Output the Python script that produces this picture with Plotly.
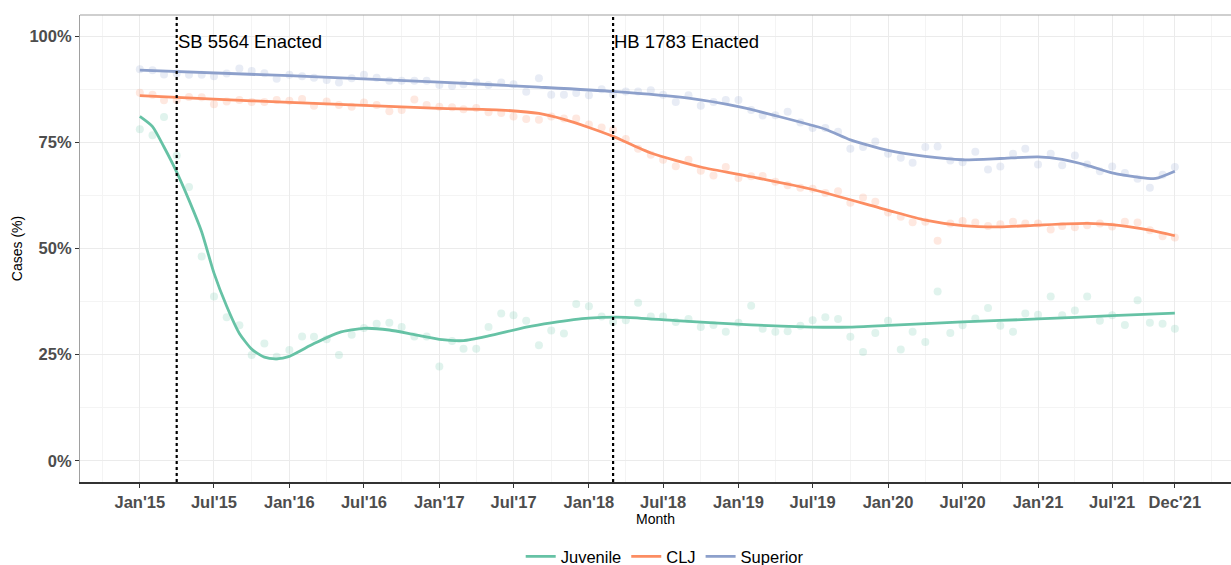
import pandas as pd
import plotly.graph_objects as go

# ---------------- data ----------------
months = pd.date_range("2015-01-01", "2021-12-01", freq="MS")

juvenile = [
    78.1, 76.7, 81.0, 71.9, 64.5, 48.1, 38.7, 33.8, 31.9, 24.9, 27.6, 24.5,
    26.1, 29.3, 29.2, 28.6, 24.9, 29.7, 31.3, 32.3, 32.5, 31.5, 29.3, 29.3,
    22.2, 28.2, 26.4, 26.4, 31.5, 34.7, 34.3, 33.0, 27.2, 30.7, 30.0, 36.9,
    36.4, 34.0, 32.7, 33.1, 37.2, 34.0, 34.0, 32.7, 33.4, 31.5, 32.0, 30.4,
    32.5, 36.5, 31.1, 30.4, 30.5, 31.8, 33.1, 33.8, 33.4, 29.2, 25.6, 30.1,
    33.0, 26.2, 30.4, 28.0, 39.9, 30.1, 31.9, 33.5, 36.0, 31.8, 30.4, 34.7,
    34.4, 38.7, 34.3, 35.4, 38.7, 33.0, 34.3, 32.0, 37.8, 32.5, 32.3, 31.1,
]
clj = [
    86.7, 86.2, 84.9, 85.0, 85.7, 85.6, 84.0, 84.6, 85.0, 84.5, 84.5, 85.0,
    84.8, 85.2, 83.6, 84.6, 83.8, 83.4, 84.4, 83.8, 82.3, 82.6, 85.1, 83.8,
    83.4, 83.3, 82.8, 83.1, 82.1, 81.9, 81.1, 80.5, 80.3, 81.1, 80.6, 80.6,
    79.2, 78.5, 77.9, 75.8, 73.5, 72.1, 70.9, 69.4, 70.9, 68.3, 67.2, 69.2,
    66.6, 67.0, 67.1, 65.7, 64.9, 64.3, 64.1, 63.1, 63.5, 60.8, 62.0, 61.0,
    58.5, 57.5, 56.2, 56.3, 51.8, 55.9, 56.5, 56.1, 55.3, 55.7, 56.3, 55.9,
    55.9, 54.5, 55.3, 55.0, 55.5, 55.9, 55.2, 56.3, 56.1, 54.3, 52.9, 52.6,
]
superior = [
    92.2, 92.0, 91.0, 91.2, 90.9, 90.9, 90.6, 91.2, 92.4, 91.8, 91.3, 90.0,
    90.9, 90.6, 90.2, 89.7, 89.1, 90.1, 90.9, 90.2, 89.5, 89.5, 89.5, 89.5,
    88.5, 88.3, 88.7, 89.1, 88.5, 89.1, 88.7, 86.9, 90.1, 86.2, 86.2, 86.6,
    86.1, 87.5, 86.2, 87.0, 87.0, 87.3, 86.2, 84.5, 86.1, 83.6, 84.5, 85.0,
    85.0, 82.6, 81.3, 81.4, 82.2, 79.7, 78.4, 78.4, 77.5, 73.5, 73.9, 75.2,
    72.3, 71.4, 70.2, 73.9, 74.0, 70.7, 70.3, 72.8, 68.6, 69.3, 72.3, 73.5,
    69.8, 72.3, 69.6, 71.9, 69.8, 68.2, 69.3, 67.8, 66.4, 64.3, 67.4, 69.2,
]

# smoothed trend values
juv_smooth_dates = ["2015-01-01", "2015-02-01", "2015-03-01", "2015-04-01", "2015-05-01",
                    "2015-06-01", "2015-07-01", "2015-08-01", "2015-09-01", "2015-10-01",
                    "2015-11-01", "2015-12-01", "2016-01-01", "2016-03-01", "2016-05-01",
                    "2016-07-01", "2016-09-01", "2016-11-01", "2017-01-01", "2017-03-01",
                    "2017-05-01", "2017-08-01", "2017-10-01", "2018-01-01", "2018-04-01",
                    "2018-08-01", "2019-02-01", "2019-07-01", "2019-10-01", "2020-01-01",
                    "2020-07-01", "2021-01-01", "2021-07-01", "2021-12-01"]
juv_smooth_vals = [81.1, 78.7, 73.9, 68.0, 61.4, 53.9, 44.2, 36.4, 30.0, 26.3,
                   24.4, 24.0, 24.6, 27.6, 30.2, 31.2, 30.8, 29.7, 28.6, 28.3,
                   29.4, 31.5, 32.5, 33.6, 33.8, 33.0, 32.0, 31.5, 31.5, 31.9,
                   32.7, 33.4, 34.2, 34.8]

clj_smooth_dates = ["2015-01-01", "2015-07-01", "2016-01-01", "2016-07-01", "2017-01-01",
                    "2017-06-01", "2017-09-01", "2017-11-01", "2018-01-01", "2018-03-01",
                    "2018-06-01", "2018-10-01", "2019-02-01", "2019-07-01", "2020-01-01",
                    "2020-04-01", "2020-07-01", "2020-10-01", "2021-01-01", "2021-05-01",
                    "2021-07-01", "2021-10-01", "2021-12-01"]
clj_smooth_vals = [86.0, 85.2, 84.4, 83.7, 83.0, 82.6, 81.8, 80.4, 78.5, 76.4,
                   72.5, 69.2, 66.9, 63.9, 59.0, 56.7, 55.4, 55.1, 55.5, 55.9,
                   55.6, 54.3, 53.0]

sup_smooth_dates = ["2015-01-01", "2016-01-01", "2017-01-01", "2017-09-01", "2018-03-01",
                    "2018-09-01", "2019-01-01", "2019-04-01", "2019-08-01", "2019-10-01",
                    "2020-01-01", "2020-04-01", "2020-07-01", "2020-10-01", "2021-01-01",
                    "2021-03-01", "2021-05-01", "2021-07-01", "2021-09-01", "2021-10-15",
                    "2021-12-01"]
sup_smooth_vals = [92.0, 90.7, 89.2, 88.0, 87.0, 85.4, 83.4, 81.3, 78.1, 75.6,
                   73.1, 71.7, 70.9, 71.2, 71.6, 71.0, 69.6, 67.8, 66.8, 66.5,
                   68.2]

series_names = ["Juvenile", "CLJ", "Superior"]
series_colors = ["#66C2A5", "#FC8D62", "#8DA0CB"]

event_dates = ["2015-04-01", "2018-03-01"]
event_labels = ["SB 5564 Enacted", "HB 1783 Enacted"]

x_tick_dates = ["2015-01-01", "2015-07-01", "2016-01-01", "2016-07-01", "2017-01-01",
                "2017-07-01", "2018-01-01", "2018-07-01", "2019-01-01", "2019-07-01",
                "2020-01-01", "2020-07-01", "2021-01-01", "2021-07-01", "2021-12-01"]
x_tick_labels = ["Jan'15", "Jul'15", "Jan'16", "Jul'16", "Jan'17", "Jul'17", "Jan'18",
                 "Jul'18", "Jan'19", "Jul'19", "Jan'20", "Jul'20", "Jan'21", "Jul'21", "Dec'21"]
x_minor_dates = ["2014-10-01", "2015-04-01", "2015-10-01", "2016-04-01", "2016-10-01",
                 "2017-04-01", "2017-10-01", "2018-04-01", "2018-10-01", "2019-04-01",
                 "2019-10-01", "2020-04-01", "2020-10-01", "2021-04-01", "2021-09-16",
                 "2022-02-28"]
y_tick_vals = [0, 25, 50, 75, 100]
y_tick_labels = ["0%", "25%", "50%", "75%", "100%"]
y_minor_vals = [12.5, 37.5, 62.5, 87.5]

# ---------------- figure ----------------
FONT = "Liberation Sans, Arial, sans-serif"
fig = go.Figure()

point_series = [juvenile, clj, superior]
for name, color, vals in zip(series_names, series_colors, point_series):
    fig.add_trace(go.Scatter(
        x=months, y=vals, mode="markers", name=name, showlegend=False,
        marker=dict(color=color, size=8, opacity=0.2, line=dict(width=0)),
        hoverinfo="skip",
    ))

smooth = [(juv_smooth_dates, juv_smooth_vals), (clj_smooth_dates, clj_smooth_vals),
          (sup_smooth_dates, sup_smooth_vals)]
for name, color, (d, v) in zip(series_names, series_colors, smooth):
    fig.add_trace(go.Scatter(
        x=pd.to_datetime(d), y=v, mode="lines", name=name,
        line=dict(color=color, width=2.8, shape="spline", smoothing=0.6),
    ))

for d, lab in zip(event_dates, event_labels):
    fig.add_shape(type="line", xref="x", yref="paper", x0=d, x1=d, y0=0, y1=1,
                  line=dict(color="black", width=2.2, dash="dot"), layer="above")
    fig.add_annotation(x=d, y=98.8, xref="x", yref="y", text=lab, showarrow=False,
                       xanchor="left", yanchor="middle", xshift=-1,
                       font=dict(family=FONT, size=18.5, color="black"))

# top border of the panel
fig.add_shape(type="line", xref="paper", yref="paper", x0=0, x1=1, y0=1, y1=1,
              line=dict(color="#A0A0A0", width=1.2))

x_lo = pd.Timestamp("2015-01-01") - pd.Timedelta(days=146)
x_hi = pd.Timestamp("2021-12-01") + pd.Timedelta(days=137)

fig.update_layout(
    width=1231, height=565,
    margin=dict(l=80, r=0, t=15, b=83, autoexpand=False),
    paper_bgcolor="white", plot_bgcolor="white",
    font=dict(family=FONT, color="black"),
    showlegend=True,
    legend=dict(orientation="h", x=0.508, xanchor="center", y=-0.16, yanchor="middle",
                font=dict(family=FONT, size=16.5, color="black"), itemwidth=30,
                bgcolor="rgba(0,0,0,0)"),
    xaxis=dict(
        range=[x_lo, x_hi], type="date", automargin=False,
        tickmode="array", tickvals=pd.to_datetime(x_tick_dates), ticktext=x_tick_labels,
        tickfont=dict(family=FONT, size=16.5, color="#4D4D4D", weight="bold"),
        ticks="outside", ticklen=4, tickcolor="#333333", tickwidth=1,
        showgrid=True, gridcolor="#EBEBEB", gridwidth=1,
        minor=dict(tickmode="array", tickvals=pd.to_datetime(x_minor_dates),
                   showgrid=True, gridcolor="#F4F4F4", gridwidth=1, ticks=""),
        showline=True, linecolor="#333333", linewidth=1.5,
        zeroline=False,
        title=dict(text="Month", font=dict(family=FONT, size=14, color="black"), standoff=2),
    ),
    yaxis=dict(
        range=[-5, 105], automargin=False,
        tickmode="array", tickvals=y_tick_vals, ticktext=y_tick_labels,
        tickfont=dict(family=FONT, size=16.5, color="#4D4D4D", weight="bold"),
        ticks="outside", ticklen=4, tickcolor="#333333", tickwidth=1,
        showgrid=True, gridcolor="#EBEBEB", gridwidth=1,
        minor=dict(tickmode="array", tickvals=y_minor_vals, showgrid=True,
                   gridcolor="#F4F4F4", gridwidth=1, ticks=""),
        showline=True, linecolor="#A0A0A0", linewidth=1.2,
        zeroline=False,
        title=dict(text="Cases (%)", font=dict(family=FONT, size=14, color="black"), standoff=3),
    ),
)

fig.write_html("out.html", config={"displayModeBar": False},
               post_script="document.body.style.margin='0';document.body.style.padding='0';")
